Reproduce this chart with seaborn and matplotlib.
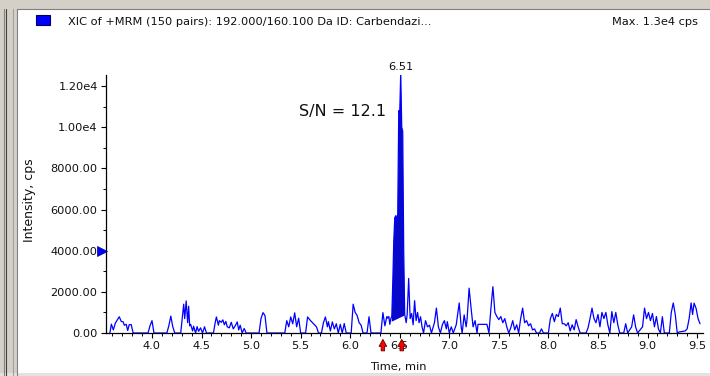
import matplotlib
matplotlib.use("Agg")
import matplotlib.pyplot as plt
from matplotlib.patches import Rectangle
from matplotlib.lines import Line2D
from matplotlib.ticker import FixedLocator, MultipleLocator
import seaborn as sns

# XIC of +MRM 192.000/160.100 Da (Carbendazim): baseline before the peak
pre_time = [3.575, 3.59, 3.61, 3.63, 3.67, 3.69, 3.71, 3.72, 3.74, 3.755, 3.77, 3.79, 3.81,
            3.96, 3.98, 4.00, 4.02, 4.15, 4.17, 4.19, 4.21, 4.23, 4.29, 4.31, 4.32, 4.33,
            4.345, 4.36, 4.37, 4.38, 4.39, 4.41, 4.42, 4.44, 4.455, 4.47, 4.49, 4.51, 4.53,
            4.55, 4.62, 4.64, 4.65, 4.67, 4.68, 4.70, 4.715, 4.73, 4.745, 4.76, 4.78, 4.80,
            4.82, 4.84, 4.86, 4.875, 4.89, 4.91, 4.93, 4.95, 5.08, 5.10, 5.12, 5.14, 5.16,
            5.34, 5.36, 5.38, 5.40, 5.42, 5.44, 5.46, 5.48, 5.50, 5.55, 5.57, 5.60, 5.62,
            5.64, 5.66, 5.68, 5.71, 5.73, 5.75, 5.77, 5.78, 5.80, 5.82, 5.84, 5.86, 5.88,
            5.90, 5.92, 5.94, 5.96, 6.01, 6.03, 6.05, 6.07, 6.09, 6.11, 6.13, 6.17, 6.19,
            6.21, 6.31, 6.33, 6.35, 6.37, 6.38, 6.39, 6.40, 6.41]
pre_cps = [0, 430, 150, 480, 790, 560, 540, 380, 420, 120, 400, 410, 0,
           0, 350, 600, 0, 0, 350, 820, 300, 0, 0, 950, 1400, 700,
           1560, 500, 1300, 350, 420, 100, 330, 0, 310, 80, 250, 0, 300,
           0, 0, 560, 780, 380, 600, 520, 640, 400, 560, 300, 250, 520,
           200, 350, 540, 150, 380, 0, 220, 0, 0, 700, 990, 850, 0,
           0, 600, 300, 780, 450, 980, 300, 720, 0, 0, 780, 600, 500,
           400, 300, 0, 0, 500, 780, 300, 550, 100, 540, 200, 450, 0,
           420, 0, 460, 0, 0, 1400, 1000, 850, 500, 380, 0, 0, 790,
           0, 0, 990, 350, 800, 720, 800, 420, 700]

# integrated peak
peak_time = [6.42, 6.43, 6.44, 6.45, 6.46, 6.47, 6.48, 6.49, 6.50, 6.51, 6.52, 6.53, 6.54, 6.55]
peak_cps = [800, 2500, 4500, 5600, 5700, 5500, 5800, 10800, 10700, 12650, 10000, 9800, 4000, 900]
peak_baseline_time = [6.42, 6.55]
peak_baseline_cps = [550, 850]

# baseline after the peak
post_time = [6.565, 6.575, 6.59, 6.605, 6.62, 6.635, 6.65, 6.665, 6.68, 6.695, 6.71, 6.725,
             6.74, 6.76, 6.78, 6.80, 6.82, 6.85, 6.87, 6.89, 6.91, 6.93, 6.95, 6.97, 6.98,
             7.00, 7.02, 7.04, 7.07, 7.10, 7.12, 7.13, 7.15, 7.17, 7.18, 7.20, 7.22, 7.24,
             7.26, 7.28, 7.29, 7.38, 7.40, 7.42, 7.44, 7.46, 7.48, 7.50, 7.52, 7.54, 7.56,
             7.58, 7.60, 7.62, 7.64, 7.66, 7.68, 7.70, 7.72, 7.74, 7.76, 7.78, 7.80, 7.82,
             7.84, 7.86, 7.88, 7.91, 7.93, 7.95, 8.00, 8.02, 8.04, 8.06, 8.08, 8.10, 8.12,
             8.14, 8.16, 8.18, 8.20, 8.22, 8.24, 8.26, 8.28, 8.30, 8.32, 8.38, 8.40, 8.42,
             8.44, 8.46, 8.48, 8.50, 8.52, 8.54, 8.56, 8.58, 8.60, 8.62, 8.64, 8.66, 8.68,
             8.70, 8.72, 8.76, 8.78, 8.80, 8.84, 8.86, 8.88, 8.90, 8.95, 8.97, 8.99, 9.01,
             9.03, 9.05, 9.07, 9.09, 9.11, 9.13, 9.15, 9.17, 9.22, 9.24, 9.26, 9.28, 9.30,
             9.32, 9.38, 9.40, 9.42, 9.44, 9.455, 9.47, 9.49, 9.51, 9.53]
post_cps = [500, 900, 2650, 700, 950, 400, 1570, 600, 1000, 500, 790, 300,
            0, 600, 300, 380, 0, 500, 1210, 300, 0, 400, 600, 200, 550,
            0, 300, 0, 400, 1460, 300, 0, 880, 300, 700, 2180, 1200, 300,
            600, 0, 420, 420, 0, 1200, 2250, 1000, 800, 650, 800, 500, 700,
            300, 0, 250, 600, 150, 400, 0, 700, 1210, 500, 600, 350, 450,
            150, 200, 0, 0, 200, 0, 0, 700, 950, 550, 900, 800, 1210,
            450, 450, 350, 500, 100, 400, 150, 650, 300, 0, 0, 250, 700,
            1210, 700, 500, 900, 300, 1000, 700, 1000, 400, 0, 1040, 500, 1000,
            400, 0, 0, 450, 0, 300, 880, 300, 0, 300, 1210, 700, 1000,
            600, 950, 300, 800, 200, 0, 790, 0, 0, 1000, 1460, 900, 0,
            50, 100, 200, 700, 1460, 900, 1450, 1200, 700, 450]

apex_time = 6.51
apex_cps = 12650
apex_label = "6.51"
sn_label = "S/N = 12.1"
integration_marks = [6.33, 6.52]
threshold_cps = 4000

title_label = "XIC of +MRM (150 pairs): 192.000/160.100 Da ID: Carbendazi..."
max_label = "Max. 1.3e4 cps"
x_label = "Time, min"
y_label = "Intensity, cps"
x_ticks = [4.0, 4.5, 5.0, 5.5, 6.0, 6.5, 7.0, 7.5, 8.0, 8.5, 9.0, 9.5]
x_tick_labels = ["4.0", "4.5", "5.0", "5.5", "6.0", "6.5", "7.0", "7.5", "8.0", "8.5", "9.0", "9.5"]
y_ticks = [0, 2000, 4000, 6000, 8000, 10000, 12000]
y_tick_labels = ["0.00", "2000.00", "4000.00", "6000.00", "8000.00", "1.00e4", "1.20e4"]

sns.set_style("ticks")
plt.rcParams["font.family"] = ["DejaVu Sans"]
FS = 8.2
TXT = "#101010"

W, H = 710, 376
fig = plt.figure(figsize=(W / 100, H / 100), dpi=100)
fig.patch.set_facecolor("white")


def fx(px):
    return px / W


def fy(py):
    return 1 - py / H


# application window frame
frame = "#d4d0c8"
fig.add_artist(Rectangle((0, fy(9)), 1, 9 / H, transform=fig.transFigure,
                         facecolor=frame, edgecolor="none"))
fig.add_artist(Rectangle((0, 0), fx(17), 1, transform=fig.transFigure,
                         facecolor=frame, edgecolor="none"))
fig.add_artist(Rectangle((0, 0), 1, 3 / H, transform=fig.transFigure,
                         facecolor="#e4e2dc", edgecolor="none"))
for px, col in [(4, "#808080"), (6, "#404040"), (13, "#a0a0a0"), (17, "#808080")]:
    fig.add_artist(Line2D([fx(px), fx(px)], [0, fy(9)], transform=fig.transFigure,
                          color=col, lw=0.8))
fig.add_artist(Line2D([fx(17), 1], [fy(9), fy(9)], transform=fig.transFigure,
                      color="#808080", lw=0.8))

ax = fig.add_axes([fx(106), fy(333), fx(703) - fx(106), (333 - 75) / H])
ax.set_facecolor("white")

trace_time = pre_time + peak_time + post_time
trace_cps = pre_cps + peak_cps + post_cps

# filled integrated area between the trace and the drawn baseline
ax.fill(peak_time + peak_baseline_time[::-1], peak_cps + peak_baseline_cps[::-1],
        color="#0808c8", lw=0, zorder=2)
sns.lineplot(x=trace_time, y=trace_cps, estimator=None, sort=False, ax=ax,
             color="#0000ff", linewidth=0.9, zorder=3)

ax.set_xlim(3.536, 9.56)
ax.set_ylim(0, 12535)
sns.despine(ax=ax)
for s in ["left", "bottom"]:
    ax.spines[s].set_color("black")
    ax.spines[s].set_linewidth(0.9)

ax.xaxis.set_major_locator(FixedLocator(x_ticks))
ax.set_xticklabels(x_tick_labels)
ax.xaxis.set_minor_locator(MultipleLocator(0.1))
ax.yaxis.set_major_locator(FixedLocator(y_ticks))
ax.set_yticklabels(y_tick_labels)
ax.yaxis.set_minor_locator(MultipleLocator(1000))
ax.tick_params(which="major", length=3.5, width=0.8, color="black", labelsize=FS,
               pad=2.5, labelcolor=TXT)
ax.tick_params(which="minor", length=2, width=0.7, color="black")
ax.set_xlabel("")
ax.set_ylabel("")

# apex retention time and signal-to-noise
ax.annotate(apex_label, xy=(apex_time, apex_cps), xytext=(0, 0.5), textcoords="offset points",
            ha="center", va="bottom", fontsize=FS, color=TXT, annotation_clip=False)
ax.text(5.92, 10740, sn_label, ha="center", va="center", fontsize=11.5, color=TXT)

# threshold marker on the intensity axis
ax.plot([-0.006], [threshold_cps], marker=">", markersize=6.5, color="#0000ff",
        markeredgecolor="#000080", markeredgewidth=0.5,
        transform=ax.get_yaxis_transform(), clip_on=False, zorder=5)

# integration start/end markers
for t in integration_marks:
    ax.annotate("", xy=(t, -0.014), xytext=(t, -0.08),
                xycoords=("data", "axes fraction"), textcoords=("data", "axes fraction"),
                arrowprops=dict(arrowstyle="simple,head_width=0.55,head_length=0.5,tail_width=0.25",
                                facecolor="#ff0000", edgecolor="#600000", lw=0.6),
                annotation_clip=False, zorder=6)

# header and axis titles
fig.add_artist(Rectangle((fx(36), fy(25)), 14 / W, 10 / H, transform=fig.transFigure,
                         facecolor="#0000ff", edgecolor="#000060", lw=0.8))
fig.text(fx(68), fy(22), title_label, ha="left", va="center", fontsize=FS, color=TXT)
fig.text(fx(612), fy(22), max_label, ha="left", va="center", fontsize=FS, color=TXT)
fig.text(fx(398), fy(367), x_label, ha="center", va="center", fontsize=FS, color=TXT)
fig.text(fx(30), fy(200), y_label, ha="center", va="center", rotation=90,
         fontsize=FS + 0.8, color=TXT)

fig.savefig("out.png", dpi=100)
